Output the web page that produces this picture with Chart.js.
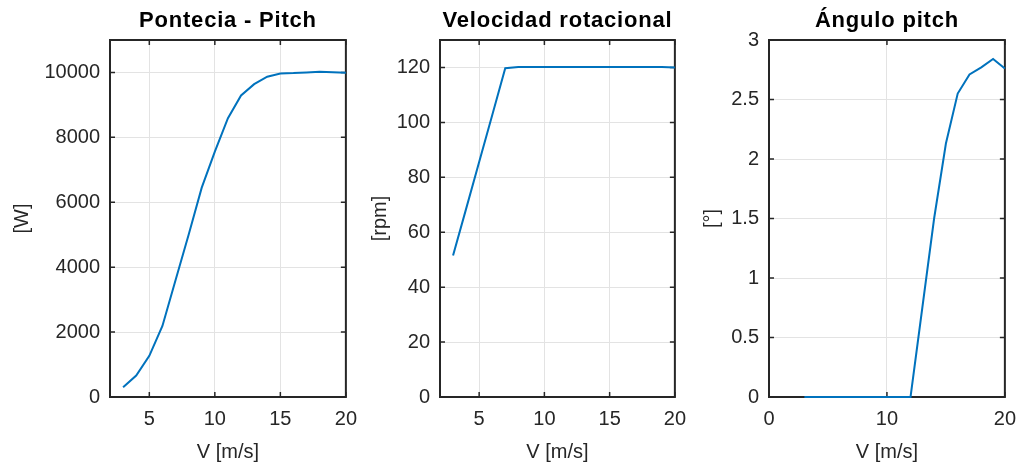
<!DOCTYPE html>
<html>
<head>
<meta charset="utf-8">
<script src="https://cdn.jsdelivr.net/npm/chart.js@4/dist/chart.umd.min.js"></script>
<style>
  body { margin: 0; background: #fff; width: 1019px; height: 466px; position: relative; overflow: hidden; }
  canvas { position: absolute; top: 0; }
</style>
</head>
<body>
<canvas id="c1" width="367" height="466" style="left:0px"></canvas>
<canvas id="c2" width="366" height="466" style="left:330px"></canvas>
<canvas id="c3" width="367" height="466" style="left:659px"></canvas>
<script>
// datos
const velocidad = [3, 4, 5, 6, 7, 8, 9, 10, 11, 12, 13, 14, 15, 16, 17, 18, 19, 20];
const potencia = [300, 660, 1270, 2190, 3600, 5000, 6450, 7560, 8590, 9290, 9640, 9870, 9970, 9980, 10000, 10020, 10010, 9990];
const rpm = [51.5, 68.5, 85.6, 102.6, 119.7, 120.2, 120.2, 120.2, 120.2, 120.2, 120.2, 120.2, 120.2, 120.2, 120.2, 120.2, 120.2, 120];
const pitch = [0, 0, 0, 0, 0, 0, 0, 0, 0, 0, 0.75, 1.5, 2.13, 2.55, 2.71, 2.77, 2.84, 2.76];

const xTicksA = [5, 10, 15, 20];
const xTicksB = [0, 10, 20];
const yTicksPot = [0, 2000, 4000, 6000, 8000, 10000];
const yTicksRpm = [0, 20, 40, 60, 80, 100, 120];
const yTicksPitch = [0, 0.5, 1, 1.5, 2, 2.5, 3];

const azul = '#0072BD';
const ejes = '#262626';
const rejilla = '#e3e3e3';

// caja estilo matlab con marcas hacia dentro + titulo
const cajaPlugin = {
  id: 'caja',
  beforeDatasetsDraw(chart, args, opts) {
    const ctx = chart.ctx;
    const a = chart.chartArea;
    const xs = chart.scales.x, ys = chart.scales.y;
    ctx.save();
    ctx.strokeStyle = ejes;
    ctx.lineWidth = 2;
    ctx.strokeRect(a.left, a.top, a.right - a.left, a.bottom - a.top);
    ctx.lineWidth = 1.5;
    ctx.beginPath();
    xs.ticks.forEach(t => {
      const px = xs.getPixelForValue(t.value);
      ctx.moveTo(px, a.bottom); ctx.lineTo(px, a.bottom - 5);
      ctx.moveTo(px, a.top); ctx.lineTo(px, a.top + 5);
    });
    ys.ticks.forEach(t => {
      const py = ys.getPixelForValue(t.value);
      ctx.moveTo(a.left, py); ctx.lineTo(a.left + 5, py);
      ctx.moveTo(a.right, py); ctx.lineTo(a.right - 5, py);
    });
    ctx.stroke();
    // titulo
    ctx.fillStyle = '#000';
    ctx.font = 'bold 22px "Liberation Sans", Arial, sans-serif';
    ctx.letterSpacing = '0.8px';
    ctx.textAlign = 'center';
    ctx.textBaseline = 'middle';
    ctx.fillText(opts.texto, (a.left + a.right) / 2, 21);
    ctx.restore();
  }
};

function hacerGrafico(id, titulo, xs, ys, xmin, xmax, xTicks, ymax, yTicks, yLabel, yTitlePad) {
  const fuente = { family: '"Liberation Sans", Arial, sans-serif', size: 20 };
  return new Chart(document.getElementById(id), {
    type: 'scatter',
    data: {
      datasets: [{
        data: xs.map((v, i) => ({ x: v, y: ys[i] })),
        showLine: true,
        borderColor: azul,
        borderWidth: 2,
        pointRadius: 0,
        tension: 0,
        clip: 3
      }]
    },
    options: {
      responsive: false,
      animation: false,
      layout: { padding: { left: 0, right: 0, top: 40, bottom: 0 } },
      plugins: {
        legend: { display: false },
        tooltip: { enabled: false },
        caja: { texto: titulo }
      },
      scales: {
        x: {
          type: 'linear',
          min: xmin, max: xmax,
          afterBuildTicks: s => { s.ticks = xTicks.map(v => ({ value: v })); },
          afterFit: s => { s.height = 69; },
          grid: { color: rejilla, lineWidth: 1, drawTicks: false },
          border: { display: false },
          ticks: { color: ejes, font: fuente, padding: 10, maxRotation: 0, callback: v => String(v) },
          title: { display: true, text: 'V [m/s]', color: ejes, font: fuente, padding: { top: 0, bottom: 2 } }
        },
        y: {
          type: 'linear',
          min: 0, max: ymax,
          afterBuildTicks: s => { s.ticks = yTicks.map(v => ({ value: v })); },
          afterFit: s => { s.width = 110; },
          grid: { color: rejilla, lineWidth: 1, drawTicks: false },
          border: { display: false },
          ticks: { color: ejes, font: fuente, padding: 10, callback: v => String(v) },
          title: { display: true, text: yLabel, color: ejes, font: fuente, padding: { top: yTitlePad, bottom: 0 } }
        }
      }
    },
    plugins: [cajaPlugin]
  });
}

hacerGrafico('c1', 'Pontecia - Pitch', velocidad, potencia, 2, 20, xTicksA, 11000, yTicksPot, '[W]', 10);
hacerGrafico('c2', 'Velocidad rotacional', velocidad, rpm, 2, 20, xTicksA, 130, yTicksRpm, '[rpm]', 38);
hacerGrafico('c3', 'Ángulo pitch', velocidad, pitch, 0, 20, xTicksB, 3, yTicksPitch, '[°]', 41);
</script>
</body>
</html>
